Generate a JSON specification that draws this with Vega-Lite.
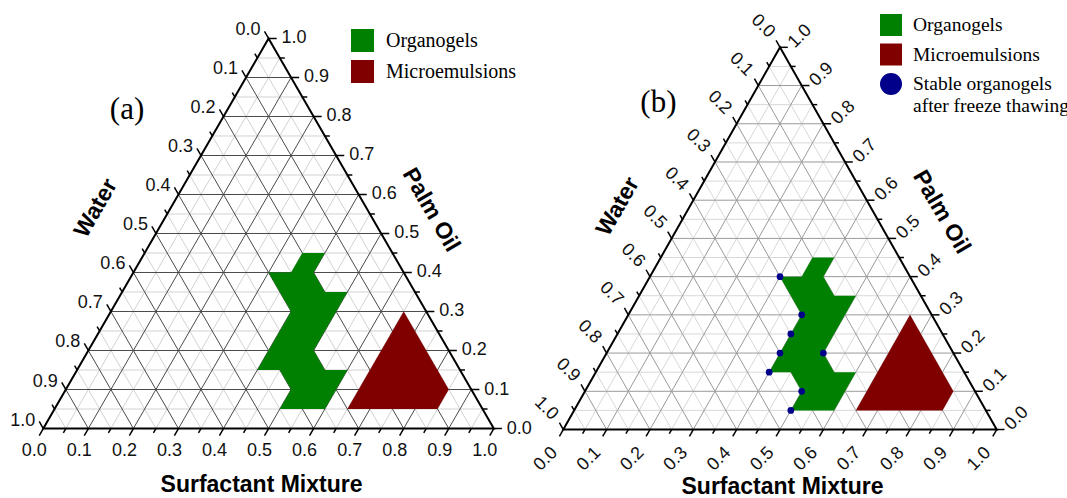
{
"$schema":"https://vega.github.io/schema/vega-lite/v6.json",
"autosize":{"type":"pad"},
"padding":0,
"spacing":0,
"bounds":"flush",
"config":{"view":{"stroke":null},"font":"Liberation Sans"},
"datasets":{
"grid":[
{"s1":0,"o1":0.05,"s2":0.95,"o2":0.05,"m":0},{"s1":0.05,"o1":0,"s2":0.05,"o2":0.95,"m":0},{"s1":0.95,"o1":0,"s2":0,"o2":0.95,"m":0},
{"s1":0,"o1":0.15,"s2":0.85,"o2":0.15,"m":0},{"s1":0.15,"o1":0,"s2":0.15,"o2":0.85,"m":0},{"s1":0.85,"o1":0,"s2":0,"o2":0.85,"m":0},
{"s1":0,"o1":0.25,"s2":0.75,"o2":0.25,"m":0},{"s1":0.25,"o1":0,"s2":0.25,"o2":0.75,"m":0},{"s1":0.75,"o1":0,"s2":0,"o2":0.75,"m":0},
{"s1":0,"o1":0.35,"s2":0.65,"o2":0.35,"m":0},{"s1":0.35,"o1":0,"s2":0.35,"o2":0.65,"m":0},{"s1":0.65,"o1":0,"s2":0,"o2":0.65,"m":0},
{"s1":0,"o1":0.45,"s2":0.55,"o2":0.45,"m":0},{"s1":0.45,"o1":0,"s2":0.45,"o2":0.55,"m":0},{"s1":0.55,"o1":0,"s2":0,"o2":0.55,"m":0},
{"s1":0,"o1":0.55,"s2":0.45,"o2":0.55,"m":0},{"s1":0.55,"o1":0,"s2":0.55,"o2":0.45,"m":0},{"s1":0.45,"o1":0,"s2":0,"o2":0.45,"m":0},
{"s1":0,"o1":0.65,"s2":0.35,"o2":0.65,"m":0},{"s1":0.65,"o1":0,"s2":0.65,"o2":0.35,"m":0},{"s1":0.35,"o1":0,"s2":0,"o2":0.35,"m":0},
{"s1":0,"o1":0.75,"s2":0.25,"o2":0.75,"m":0},{"s1":0.75,"o1":0,"s2":0.75,"o2":0.25,"m":0},{"s1":0.25,"o1":0,"s2":0,"o2":0.25,"m":0},
{"s1":0,"o1":0.85,"s2":0.15,"o2":0.85,"m":0},{"s1":0.85,"o1":0,"s2":0.85,"o2":0.15,"m":0},{"s1":0.15,"o1":0,"s2":0,"o2":0.15,"m":0},
{"s1":0,"o1":0.95,"s2":0.05,"o2":0.95,"m":0},{"s1":0.95,"o1":0,"s2":0.95,"o2":0.05,"m":0},{"s1":0.05,"o1":0,"s2":0,"o2":0.05,"m":0},
{"s1":0,"o1":0.1,"s2":0.9,"o2":0.1,"m":1},{"s1":0.1,"o1":0,"s2":0.1,"o2":0.9,"m":1},{"s1":0.9,"o1":0,"s2":0,"o2":0.9,"m":1},
{"s1":0,"o1":0.2,"s2":0.8,"o2":0.2,"m":1},{"s1":0.2,"o1":0,"s2":0.2,"o2":0.8,"m":1},{"s1":0.8,"o1":0,"s2":0,"o2":0.8,"m":1},
{"s1":0,"o1":0.3,"s2":0.7,"o2":0.3,"m":1},{"s1":0.3,"o1":0,"s2":0.3,"o2":0.7,"m":1},{"s1":0.7,"o1":0,"s2":0,"o2":0.7,"m":1},
{"s1":0,"o1":0.4,"s2":0.6,"o2":0.4,"m":1},{"s1":0.4,"o1":0,"s2":0.4,"o2":0.6,"m":1},{"s1":0.6,"o1":0,"s2":0,"o2":0.6,"m":1},
{"s1":0,"o1":0.5,"s2":0.5,"o2":0.5,"m":1},{"s1":0.5,"o1":0,"s2":0.5,"o2":0.5,"m":1},{"s1":0.5,"o1":0,"s2":0,"o2":0.5,"m":1},
{"s1":0,"o1":0.6,"s2":0.4,"o2":0.6,"m":1},{"s1":0.6,"o1":0,"s2":0.6,"o2":0.4,"m":1},{"s1":0.4,"o1":0,"s2":0,"o2":0.4,"m":1},
{"s1":0,"o1":0.7,"s2":0.3,"o2":0.7,"m":1},{"s1":0.7,"o1":0,"s2":0.7,"o2":0.3,"m":1},{"s1":0.3,"o1":0,"s2":0,"o2":0.3,"m":1},
{"s1":0,"o1":0.8,"s2":0.2,"o2":0.8,"m":1},{"s1":0.8,"o1":0,"s2":0.8,"o2":0.2,"m":1},{"s1":0.2,"o1":0,"s2":0,"o2":0.2,"m":1},
{"s1":0,"o1":0.9,"s2":0.1,"o2":0.9,"m":1},{"s1":0.9,"o1":0,"s2":0.9,"o2":0.1,"m":1},{"s1":0.1,"o1":0,"s2":0,"o2":0.1,"m":1}
],
"ticks":[{"v":0},{"v":0.05},{"v":0.1},{"v":0.15},{"v":0.2},{"v":0.25},{"v":0.3},{"v":0.35},{"v":0.4},{"v":0.45},{"v":0.5},{"v":0.55},{"v":0.6},{"v":0.65},{"v":0.7},{"v":0.75},{"v":0.8},{"v":0.85},{"v":0.9},{"v":0.95},{"v":1}],
"tri":[{"i":1,"s":0,"o":0},{"i":2,"s":1,"o":0},{"i":3,"s":0,"o":1}],
"poly":[
{"region":"Organogels","i":1,"s":0.35,"o":0.45},
{"region":"Organogels","i":2,"s":0.40,"o":0.45},
{"region":"Organogels","i":3,"s":0.40,"o":0.40},
{"region":"Organogels","i":4,"s":0.45,"o":0.35},
{"region":"Organogels","i":5,"s":0.50,"o":0.35},
{"region":"Organogels","i":6,"s":0.50,"o":0.20},
{"region":"Organogels","i":7,"s":0.55,"o":0.15},
{"region":"Organogels","i":8,"s":0.60,"o":0.15},
{"region":"Organogels","i":9,"s":0.60,"o":0.05},
{"region":"Organogels","i":10,"s":0.50,"o":0.05},
{"region":"Organogels","i":11,"s":0.50,"o":0.10},
{"region":"Organogels","i":12,"s":0.45,"o":0.15},
{"region":"Organogels","i":13,"s":0.40,"o":0.15},
{"region":"Organogels","i":14,"s":0.40,"o":0.30},
{"region":"Organogels","i":15,"s":0.30,"o":0.40},
{"region":"Organogels","i":16,"s":0.35,"o":0.40},
{"region":"Microemulsions","i":1,"s":0.65,"o":0.30},
{"region":"Microemulsions","i":2,"s":0.85,"o":0.10},
{"region":"Microemulsions","i":3,"s":0.85,"o":0.05},
{"region":"Microemulsions","i":4,"s":0.65,"o":0.05}
],
"dots":[
{"region":"Stable organogels after freeze thawing","s":0.30,"o":0.40},
{"region":"Stable organogels after freeze thawing","s":0.40,"o":0.30},
{"region":"Stable organogels after freeze thawing","s":0.40,"o":0.25},
{"region":"Stable organogels after freeze thawing","s":0.40,"o":0.20},
{"region":"Stable organogels after freeze thawing","s":0.50,"o":0.20},
{"region":"Stable organogels after freeze thawing","s":0.40,"o":0.15},
{"region":"Stable organogels after freeze thawing","s":0.50,"o":0.10},
{"region":"Stable organogels after freeze thawing","s":0.50,"o":0.05}
]
},
"resolve":{"scale":{"x":"independent","y":"independent","color":"independent","shape":"independent"},"legend":{"color":"independent","shape":"independent"}},
"hconcat":[
{
"width":533,"height":498,
"encoding":{
"x":{"field":"x","type":"quantitative","axis":null,"scale":{"domain":[-0.0961,1.087],"nice":false,"zero":false}},
"y":{"field":"y","type":"quantitative","axis":null,"scale":{"domain":[-0.1782,1.0987],"nice":false,"zero":false}}
},
"layer":[
{"data":{"name":"grid"},
"transform":[{"calculate":"datum.s1+datum.o1/2","as":"x"},{"calculate":"datum.o1","as":"y"},{"calculate":"datum.s2+datum.o2/2","as":"x2"},{"calculate":"datum.o2","as":"y2"}],
"mark":{"type":"rule","strokeWidth":1},
"encoding":{"x2":{"field":"x2"},"y2":{"field":"y2"},"color":{"condition":{"test":"datum.m==1","value":"#4a4a4a"},"value":"#d2d2d2"}}},
{"data":{"name":"poly"},
"transform":[{"calculate":"datum.s+datum.o/2","as":"x"},{"calculate":"datum.o","as":"y"}],
"mark":{"type":"line","filled":true,"interpolate":"linear-closed","strokeWidth":0},
"encoding":{"color":{"field":"region","type":"nominal","scale":{"domain":["Organogels","Microemulsions"],"range":["#008000","#800000"]},
"legend":{"orient":"none","legendX":351,"legendY":29,"title":null,"symbolType":"square","symbolSize":529,"symbolStrokeWidth":0,"labelFont":"Liberation Serif","labelFontSize":20,"labelColor":"#000","labelOffset":12,"rowPadding":8,"padding":0,"labelLimit":400}},
"order":{"field":"i","type":"quantitative"}}},
{"data":{"name":"tri"},
"transform":[{"calculate":"datum.s+datum.o/2","as":"x"},{"calculate":"datum.o","as":"y"}],
"mark":{"type":"line","interpolate":"linear-closed","color":"#000","strokeWidth":2,"strokeJoin":"miter"},
"encoding":{"order":{"field":"i","type":"quantitative"}}},
{"data":{"name":"ticks"},
"transform":[{"calculate":"round(datum.v*20)%2==0?1:0","as":"m"},{"calculate":"datum.m==1?0.018:0.011","as":"t"},{"calculate":"datum.v","as":"x"},{"calculate":"0","as":"y"},{"calculate":"datum.x-datum.t/2","as":"x2"},{"calculate":"-datum.t","as":"y2"},{"calculate":"format(datum.v,'.1f')","as":"lab"}],
"layer":[
{"mark":{"type":"rule","color":"#000","strokeWidth":1.5},"encoding":{"x2":{"field":"x2"},"y2":{"field":"y2"}}},
{"transform":[{"filter":"datum.m==1"}],"mark":{"type":"text","fontSize":18,"align":"center","baseline":"middle","dx":-9,"dy":22,"color":"#111"},"encoding":{"text":{"field":"lab"}}},
{"transform":[{"filter":"datum.v==0.5"}],"mark":{"type":"text","text":"Surfactant Mixture","fontSize":23,"fontWeight":"bold","align":"center","baseline":"middle","dx":-7,"dy":56,"color":"#000"}}
]},
{"data":{"name":"ticks"},
"transform":[{"calculate":"round(datum.v*20)%2==0?1:0","as":"m"},{"calculate":"datum.m==1?0.018:0.011","as":"t"},{"calculate":"1-datum.v/2","as":"x"},{"calculate":"datum.v","as":"y"},{"calculate":"datum.x+datum.t","as":"x2"},{"calculate":"datum.v","as":"y2"},{"calculate":"format(datum.v,'.1f')","as":"lab"}],
"layer":[
{"mark":{"type":"rule","color":"#000","strokeWidth":1.5},"encoding":{"x2":{"field":"x2"},"y2":{"field":"y2"}}},
{"transform":[{"filter":"datum.m==1"}],"mark":{"type":"text","fontSize":18,"align":"left","baseline":"middle","dx":13,"dy":0,"color":"#111"},"encoding":{"text":{"field":"lab"}}},
{"transform":[{"filter":"datum.v==0.5"}],"mark":{"type":"text","text":"Palm Oil","angle":60,"fontSize":23,"fontWeight":"bold","align":"center","baseline":"middle","dx":4.5,"dy":-55,"color":"#000"}}
]},
{"data":{"name":"ticks"},
"transform":[{"calculate":"round(datum.v*20)%2==0?1:0","as":"m"},{"calculate":"datum.m==1?0.018:0.011","as":"t"},{"calculate":"(1-datum.v)/2","as":"x"},{"calculate":"1-datum.v","as":"y"},{"calculate":"datum.x-datum.t/2","as":"x2"},{"calculate":"datum.y+datum.t","as":"y2"},{"calculate":"format(datum.v,'.1f')","as":"lab"}],
"layer":[
{"mark":{"type":"rule","color":"#000","strokeWidth":1.5},"encoding":{"x2":{"field":"x2"},"y2":{"field":"y2"}}},
{"transform":[{"filter":"datum.m==1"}],"mark":{"type":"text","fontSize":18,"align":"right","baseline":"middle","dx":-8,"dy":-8,"color":"#111"},"encoding":{"text":{"field":"lab"}}},
{"transform":[{"filter":"datum.v==0.5"}],"mark":{"type":"text","text":"Water","angle":300,"fontSize":23,"fontWeight":"bold","align":"center","baseline":"middle","dx":-8,"dy":-64.6,"color":"#000"}},
{"transform":[{"filter":"datum.v==0"}],"mark":{"type":"text","text":"(a)","font":"Liberation Serif","fontSize":31,"align":"center","baseline":"middle","dx":-141.5,"dy":71.5,"color":"#000"}}
]}
]
},
{
"width":534,"height":498,
"encoding":{
"x":{"field":"x","type":"quantitative","axis":null,"scale":{"domain":[-0.0699,1.1622],"nice":false,"zero":false}},
"y":{"field":"y","type":"quantitative","axis":null,"scale":{"domain":[-0.1792,1.1238],"nice":false,"zero":false}}
},
"layer":[
{"data":{"name":"grid"},
"transform":[{"calculate":"datum.s1+datum.o1/2","as":"x"},{"calculate":"datum.o1","as":"y"},{"calculate":"datum.s2+datum.o2/2","as":"x2"},{"calculate":"datum.o2","as":"y2"}],
"mark":{"type":"rule","strokeWidth":1},
"encoding":{"x2":{"field":"x2"},"y2":{"field":"y2"},"color":{"condition":{"test":"datum.m==1","value":"#9a9a9a"},"value":"#d8d8d8"}}},
{"data":{"name":"poly"},
"transform":[{"calculate":"datum.s+datum.o/2","as":"x"},{"calculate":"datum.o","as":"y"}],
"mark":{"type":"line","filled":true,"interpolate":"linear-closed","strokeWidth":0},
"encoding":{"color":{"field":"region","type":"nominal","scale":{"domain":["Organogels","Microemulsions","Stable organogels after freeze thawing"],"range":["#008000","#800000","#00008b"]},
"legend":{"orient":"none","legendX":347,"legendY":14,"title":null,"symbolSize":484,"symbolStrokeWidth":0,"labelFont":"Liberation Serif","labelFontSize":19.5,"labelColor":"#000","labelOffset":11,"rowPadding":7.5,"padding":0,"labelLimit":400,"labelExpr":"datum.label == 'Stable organogels after freeze thawing' ? ['Stable organogels', 'after freeze thawing'] : datum.label"}},
"order":{"field":"i","type":"quantitative"}}},
{"data":{"name":"tri"},
"transform":[{"calculate":"datum.s+datum.o/2","as":"x"},{"calculate":"datum.o","as":"y"}],
"mark":{"type":"line","interpolate":"linear-closed","color":"#000","strokeWidth":2,"strokeJoin":"miter"},
"encoding":{"order":{"field":"i","type":"quantitative"}}},
{"data":{"name":"dots"},
"transform":[{"calculate":"datum.s+datum.o/2","as":"x"},{"calculate":"datum.o","as":"y"}],
"mark":{"type":"point","filled":true,"size":45,"opacity":1},
"encoding":{"color":{"field":"region","type":"nominal","scale":{"domain":["Organogels","Microemulsions","Stable organogels after freeze thawing"],"range":["#008000","#800000","#00008b"]},
"legend":{"orient":"none","legendX":347,"legendY":14,"title":null,"symbolSize":484,"symbolStrokeWidth":0,"labelFont":"Liberation Serif","labelFontSize":19.5,"labelColor":"#000","labelOffset":11,"rowPadding":7.5,"padding":0,"labelLimit":400,"labelExpr":"datum.label == 'Stable organogels after freeze thawing' ? ['Stable organogels', 'after freeze thawing'] : datum.label"}},
"shape":{"field":"region","type":"nominal","scale":{"domain":["Organogels","Microemulsions","Stable organogels after freeze thawing"],"range":["square","square","circle"]},
"legend":{"orient":"none","legendX":347,"legendY":14,"title":null,"symbolSize":484,"symbolStrokeWidth":0,"labelFont":"Liberation Serif","labelFontSize":19.5,"labelColor":"#000","labelOffset":11,"rowPadding":7.5,"padding":0,"labelLimit":400,"labelExpr":"datum.label == 'Stable organogels after freeze thawing' ? ['Stable organogels', 'after freeze thawing'] : datum.label"}}}},
{"data":{"name":"ticks"},
"transform":[{"calculate":"round(datum.v*20)%2==0?1:0","as":"m"},{"calculate":"datum.m==1?0.018:0.011","as":"t"},{"calculate":"datum.v","as":"x"},{"calculate":"0","as":"y"},{"calculate":"datum.x-datum.t/2","as":"x2"},{"calculate":"-datum.t","as":"y2"},{"calculate":"format(datum.v,'.1f')","as":"lab"}],
"layer":[
{"mark":{"type":"rule","color":"#000","strokeWidth":1.5},"encoding":{"x2":{"field":"x2"},"y2":{"field":"y2"}}},
{"transform":[{"filter":"datum.m==1"}],"mark":{"type":"text","fontSize":18,"angle":315,"align":"center","baseline":"middle","dx":-33.2,"dy":8.5,"color":"#111"},"encoding":{"text":{"field":"lab"}}},
{"transform":[{"filter":"datum.v==0.5"}],"mark":{"type":"text","text":"Surfactant Mixture","fontSize":23,"fontWeight":"bold","align":"center","baseline":"middle","dx":2.5,"dy":57,"color":"#000"}}
]},
{"data":{"name":"ticks"},
"transform":[{"calculate":"round(datum.v*20)%2==0?1:0","as":"m"},{"calculate":"datum.m==1?0.018:0.011","as":"t"},{"calculate":"1-datum.v/2","as":"x"},{"calculate":"datum.v","as":"y"},{"calculate":"datum.x+datum.t","as":"x2"},{"calculate":"datum.v","as":"y2"},{"calculate":"format(datum.v,'.1f')","as":"lab"}],
"layer":[
{"mark":{"type":"rule","color":"#000","strokeWidth":1.5},"encoding":{"x2":{"field":"x2"},"y2":{"field":"y2"}}},
{"transform":[{"filter":"datum.m==1"}],"mark":{"type":"text","fontSize":18,"angle":315,"align":"center","baseline":"middle","dx":21.9,"dy":6.4,"color":"#111"},"encoding":{"text":{"field":"lab"}}},
{"transform":[{"filter":"datum.v==0.5"}],"mark":{"type":"text","text":"Palm Oil","angle":60,"fontSize":23,"fontWeight":"bold","align":"center","baseline":"middle","dx":3.7,"dy":-59.2,"color":"#000"}}
]},
{"data":{"name":"ticks"},
"transform":[{"calculate":"round(datum.v*20)%2==0?1:0","as":"m"},{"calculate":"datum.m==1?0.018:0.011","as":"t"},{"calculate":"(1-datum.v)/2","as":"x"},{"calculate":"1-datum.v","as":"y"},{"calculate":"datum.x-datum.t/2","as":"x2"},{"calculate":"datum.y+datum.t","as":"y2"},{"calculate":"format(datum.v,'.1f')","as":"lab"}],
"layer":[
{"mark":{"type":"rule","color":"#000","strokeWidth":1.5},"encoding":{"x2":{"field":"x2"},"y2":{"field":"y2"}}},
{"transform":[{"filter":"datum.m==1"}],"mark":{"type":"text","fontSize":18,"angle":45,"align":"center","baseline":"middle","dx":-26.9,"dy":-2.8,"color":"#111"},"encoding":{"text":{"field":"lab"}}},
{"transform":[{"filter":"datum.v==0.5"}],"mark":{"type":"text","text":"Water","angle":300,"fontSize":23,"fontWeight":"bold","align":"center","baseline":"middle","dx":0.8,"dy":-62.5,"color":"#000"}},
{"transform":[{"filter":"datum.v==0"}],"mark":{"type":"text","text":"(b)","font":"Liberation Serif","fontSize":31,"align":"center","baseline":"middle","dx":-121.6,"dy":56,"color":"#000"}}
]}
]
}
]
}
